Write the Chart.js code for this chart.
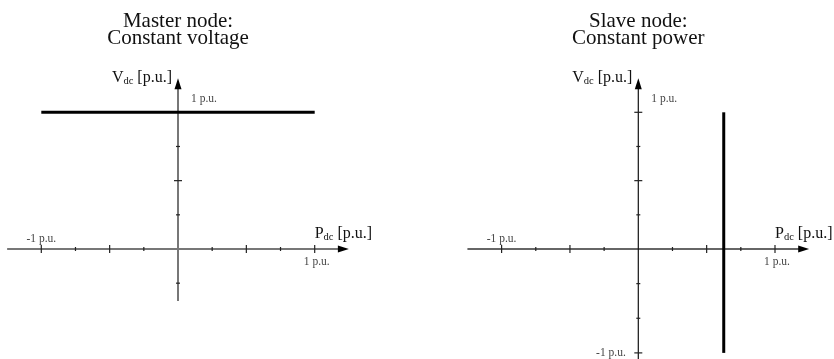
<!DOCTYPE html>
<html>
<head>
<meta charset="utf-8">
<script src="https://cdn.jsdelivr.net/npm/chart.js@4.4.1/dist/chart.umd.min.js"></script>
<style>
  html, body { margin: 0; background: #fff; }
  #wrap { width: 834px; height: 359px; display: flex; }
  canvas { display: block; }
</style>
</head>
<body>
<div id="wrap">
  <canvas id="master" width="417" height="359"></canvas>
  <canvas id="slave" width="417" height="359"></canvas>
</div>
<script>
// Operating characteristics of the two converter nodes, in p.u.
const masterP = [-1, 1];
const masterV = [1, 1];
const slaveP = [0.625, 0.625];
const slaveV = [-1, 1];

const masterTitle = ['Master node:', 'Constant voltage'];
const slaveTitle = ['Slave node:', 'Constant power'];

// Tick positions (p.u.)
const xMajorTicks = [-1, -0.5, 0.5, 1];
const xMinorTicks = [-0.75, -0.25, 0.25, 0.75];
const masterYMajorTicks = [0.5, 1];
const masterYMinorTicks = [-0.25, 0.25, 0.75];
const slaveYMajorTicks = [-1, 0.5, 1];
const slaveYMinorTicks = [-2 / 3, -1 / 3, 0.25, 0.75];
const tickLabelNeg = '-1 p.u.';
const tickLabelPos = '1 p.u.';

// Layout
const W = 417, H = 359;
const UNIT = 136.7;        // px per p.u.
const ORIGIN_Y = 249;
const NEG_SQUEEZE = 0.76;  // negative voltage half is drawn compressed
const AXIS_END = 1.25;
const SERIF = '"Liberation Serif", "Times New Roman", serif';

// Linear scale whose negative side is squeezed
class SplitLinearScale extends Chart.LinearScale {
  getPixelForValue(value) {
    return super.getPixelForValue(value < 0 ? value * NEG_SQUEEZE : value);
  }
  getValueForPixel(pixel) {
    const v = super.getValueForPixel(pixel);
    return v < 0 ? v / NEG_SQUEEZE : v;
  }
}
SplitLinearScale.id = 'splitLinear';
SplitLinearScale.defaults = Chart.LinearScale.defaults;
Chart.register(SplitLinearScale);

function strokeLine(ctx, x1, y1, x2, y2, color, width) {
  ctx.beginPath();
  ctx.moveTo(x1, y1);
  ctx.lineTo(x2, y2);
  ctx.strokeStyle = color;
  ctx.lineWidth = width;
  ctx.stroke();
}

function arrowHead(ctx, tx, ty, dx, dy) {
  const len = 11, half = 3.5;
  const bx = tx - dx * len, by = ty - dy * len;
  ctx.beginPath();
  ctx.moveTo(tx, ty);
  ctx.lineTo(bx - dy * half, by + dx * half);
  ctx.lineTo(bx + dy * half, by - dx * half);
  ctx.closePath();
  ctx.fillStyle = '#000';
  ctx.fill();
}

// "V" + subscript "dc" + " [p.u.]"
function subLabel(ctx, main, sub, rest, x, y, alignRight) {
  const big = '16px ' + SERIF, small = '10.5px ' + SERIF;
  ctx.font = big; const w1 = ctx.measureText(main).width; const w3 = ctx.measureText(rest).width;
  ctx.font = small; const w2 = ctx.measureText(sub).width;
  let sx = alignRight ? x - (w1 + w2 + w3) : x;
  ctx.textAlign = 'left';
  ctx.textBaseline = 'alphabetic';
  ctx.fillStyle = '#111';
  ctx.font = big; ctx.fillText(main, sx, y);
  ctx.font = small; ctx.fillText(sub, sx + w1, y + 2);
  ctx.font = big; ctx.fillText(rest, sx + w1 + w2, y);
}

function axesPlugin(cfg) {
  return {
    id: 'pqAxes',
    beforeDatasetsDraw(chart) {
      const { ctx, scales: { x, y } } = chart;
      const x0 = x.getPixelForValue(0), y0 = y.getPixelForValue(0);
      ctx.save();

      // title over the voltage axis
      ctx.fillStyle = '#111';
      ctx.font = '21px ' + SERIF;
      ctx.textAlign = 'center';
      ctx.textBaseline = 'alphabetic';
      ctx.fillText(cfg.title[0], x0, 26.5);
      ctx.fillText(cfg.title[1], x0, 43.5);

      // power axis
      const xTip = x.getPixelForValue(AXIS_END);
      strokeLine(ctx, x.getPixelForValue(-AXIS_END), y0, xTip - 9, y0, cfg.xColor, cfg.xWidth);
      arrowHead(ctx, xTip, y0, 1, 0);

      // voltage axis
      const yTip = y.getPixelForValue(AXIS_END);
      strokeLine(ctx, x0, y.getPixelForValue(cfg.yBottom), x0, yTip + 9, cfg.yColor, cfg.yWidth);
      arrowHead(ctx, x0, yTip, 0, -1);

      // tick marks
      xMajorTicks.forEach(v => strokeLine(ctx, x.getPixelForValue(v), y0 - 4, x.getPixelForValue(v), y0 + 4, '#222', 1.2));
      xMinorTicks.forEach(v => strokeLine(ctx, x.getPixelForValue(v), y0 - 2, x.getPixelForValue(v), y0 + 2, '#222', 1.2));
      cfg.yMajor.forEach(v => strokeLine(ctx, x0 - 4, y.getPixelForValue(v), x0 + 4, y.getPixelForValue(v), '#222', 1.2));
      cfg.yMinor.forEach(v => strokeLine(ctx, x0 - 2, y.getPixelForValue(v), x0 + 2, y.getPixelForValue(v), '#222', 1.2));

      // tick labels
      ctx.fillStyle = '#444';
      ctx.font = '11.5px ' + SERIF;
      ctx.textAlign = 'center';
      ctx.fillText(tickLabelNeg, x.getPixelForValue(-1), y0 - 7);
      ctx.fillText(tickLabelPos, x.getPixelForValue(1) + 2, y0 + 16);
      ctx.textAlign = 'left';
      ctx.fillText(tickLabelPos, x0 + 13, y.getPixelForValue(1) - 10.5);
      if (cfg.showNegV) {
        ctx.textAlign = 'right';
        ctx.textBaseline = 'middle';
        ctx.fillText(tickLabelNeg, x0 - 12.5, y.getPixelForValue(-1) + 0.5);
      }

      // axis names
      subLabel(ctx, 'V', 'dc', ' [p.u.]', x0 - 6, 81.5, true);
      subLabel(ctx, 'P', 'dc', ' [p.u.]', x.getPixelForValue(1), y0 - 10.7, false);

      ctx.restore();
    }
  };
}

function makeChart(id, px, vy, originX, yType, cfg) {
  new Chart(document.getElementById(id), {
    type: 'scatter',
    data: {
      datasets: [{
        data: px.map((p, i) => ({ x: p, y: vy[i] })),
        showLine: true,
        borderColor: '#000',
        borderWidth: 3,
        borderCapStyle: 'butt',
        pointRadius: 0
      }]
    },
    options: {
      responsive: false,
      animation: false,
      layout: { padding: 0 },
      plugins: { legend: { display: false }, tooltip: { enabled: false } },
      scales: {
        x: { type: 'linear', display: false, min: -originX / UNIT, max: (W - originX) / UNIT },
        y: { type: yType, display: false, min: -(H - ORIGIN_Y) / UNIT, max: ORIGIN_Y / UNIT }
      }
    },
    plugins: [axesPlugin(cfg)]
  });
}

makeChart('master', masterP, masterV, 178, 'linear', {
  title: masterTitle,
  yMajor: masterYMajorTicks, yMinor: masterYMinorTicks,
  yBottom: -0.38, showNegV: false,
  xColor: '#777', xWidth: 2, yColor: '#777', yWidth: 2
});

makeChart('slave', slaveP, slaveV, 221.3, 'splitLinear', {
  title: slaveTitle,
  yMajor: slaveYMajorTicks, yMinor: slaveYMinorTicks,
  yBottom: -1.3, showNegV: true,
  xColor: '#666', xWidth: 2, yColor: '#111', yWidth: 1.2
});
</script>
</body>
</html>
